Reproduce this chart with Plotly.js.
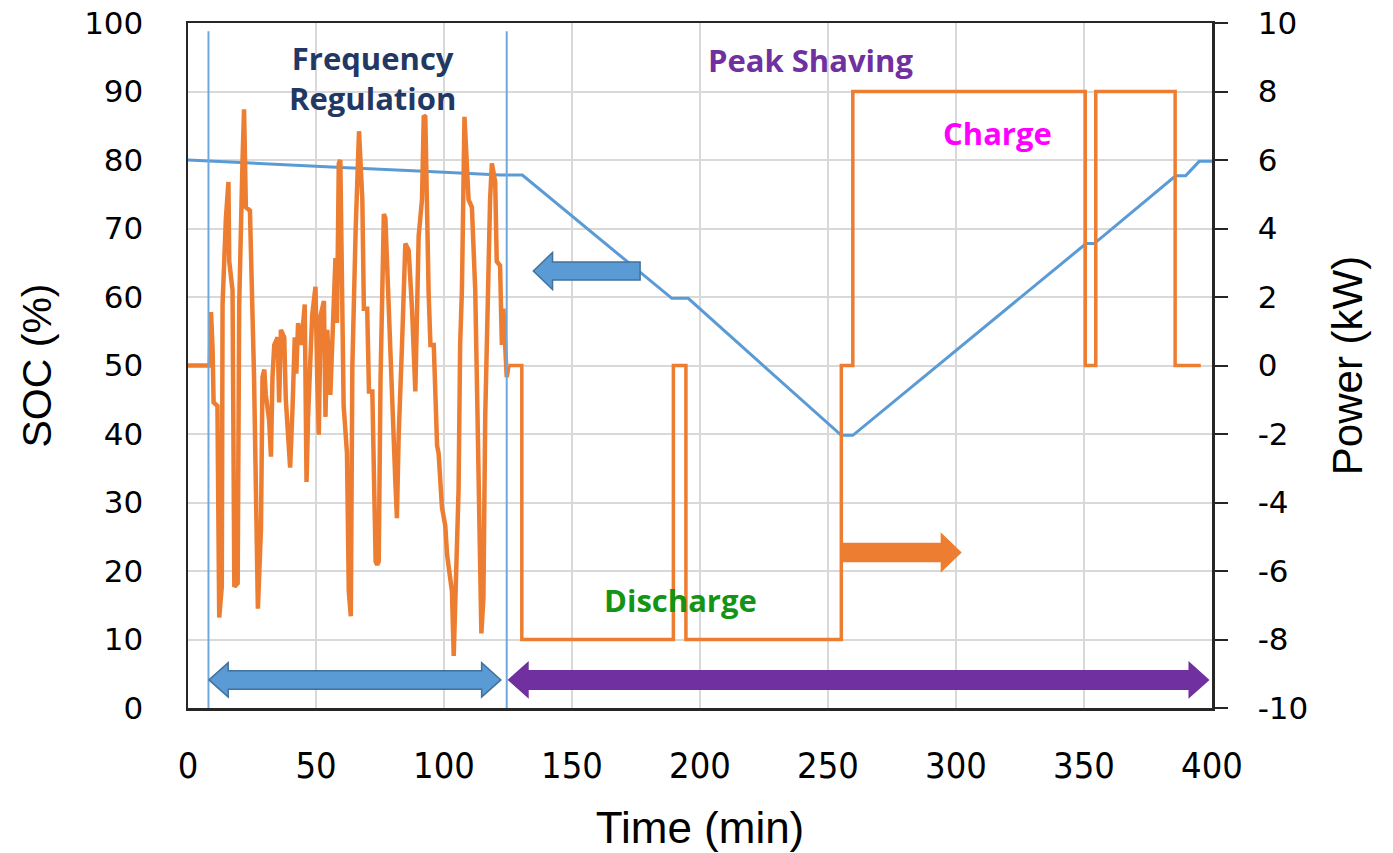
<!DOCTYPE html>
<html>
<head>
<meta charset="utf-8">
<script src="https://cdn.plot.ly/plotly-3.0.1.min.js"></script>
<style>
  html, body { margin: 0; padding: 0; background: #ffffff; }
  #chart { width: 1393px; height: 853px; }
</style>
</head>
<body>
<div id="chart"></div>
<script>
// ---------------- DATA ----------------
// State of charge (left axis, %)
const socTime  = [0, 30, 60, 90, 122, 130.6, 189, 195.4, 255.2, 259.7, 350.8, 354, 385.8, 389.7, 395, 400];
const socValue = [80, 79.4, 78.9, 78.4, 77.8, 77.8, 59.8, 59.8, 39.8, 39.8, 67.8, 67.8, 77.7, 77.7, 79.8, 79.8];

// Power during frequency regulation (right axis, kW)
const frTime = [0, 8.5, 9.0, 9.6, 10.0, 11.5, 12.2, 13.2, 13.5, 14.8, 15.8, 16.1, 17.4, 17.7, 18.1, 19.4, 20.0, 21.3, 21.9, 22.6,
  24.2, 25.8, 26.7, 27.3, 28.5, 29.1, 29.8, 30.4, 31.7, 32.4, 33.0, 33.7, 35.0, 35.6, 36.3, 37.6, 38.2, 38.8, 39.9, 40.8,
  41.7, 42.3, 43.0, 44.3, 45.6, 46.3, 46.9, 48.5, 49.8, 50.5, 51.1, 51.8, 53.1, 53.7, 54.4, 55.6, 56.9, 57.6, 58.2, 58.9,
  59.5, 60.2, 60.8, 62.1, 62.8, 63.6, 64.2, 65.5, 66.8, 68.1, 68.7, 70.0, 70.7, 72.0, 72.6, 73.3, 73.9, 74.5, 75.2, 75.8,
  76.5, 77.1, 78.4, 79.1, 79.7, 81.0, 81.6, 82.3, 83.6, 84.9, 86.2, 87.5, 88.8, 89.4, 90.1, 91.4, 92.1, 92.7, 93.4, 94.0,
  94.7, 96.0, 96.6, 97.3, 97.9, 98.6, 99.2, 100.5, 101.2, 102.5, 103.1, 103.8, 104.4, 105.7, 106.3, 107.0, 108.0, 109.6, 110.9, 112.2,
  112.8, 113.5, 114.1, 114.6, 115.4, 116.1, 116.7, 118.0, 118.7, 120.0, 120.6, 121.9, 122.6, 123.2, 124.5, 125.2];
const frPower = [0, 0, 1.56, 0.5, -1.08, -1.18, -7.36, -6.46, 1.78, 4.3, 5.36, 3.04, 2.2, -2.46, -6.46, -6.36, 1.78, 6.0, 7.48, 4.62,
  4.52, -0.34, -3.5, -7.1, -4.78, -0.34, -0.12, -0.86, -1.6, -2.66, -0.34, 0.6, 0.82, -1.08, 1.04, 0.82, -0.98, -1.72, -2.98, -1.3,
  0.82, -0.24, 1.24, 0.6, 1.78, -3.4, -1.5, 1.46, 2.3, -0.44, -2.02, 1.46, 1.88, -1.5, 1.04, -0.86, 1.66, 3.14, 1.24, 5.9,
  6.0, 1.14, -1.18, -2.56, -6.58, -7.32, -0.02, 4.0, 6.84, 4.84, 1.66, 1.66, -0.76, -0.76, -3.6, -5.72, -5.82, -5.72, -0.44, 2.72,
  4.42, 4.3, 1.46, 0.6, -1.5, -3.4, -4.46, -2.02, 0.6, 3.56, 3.36, 1.66, -0.76, 1.14, 3.78, 4.84, 7.3, 7.26, 4.0, 2.1,
  0.6, 0.6, -0.76, -2.34, -2.56, -3.6, -4.14, -4.68, -5.52, -6.26, -6.58, -8.48, -6.58, -3.6, 0.6, 2.2, 7.26, 4.84, 4.62, 2.2,
  -0.24, -2.56, -5.72, -7.82, -6.78, -1.5, 0.6, 4.84, 5.9, 5.36, 3.04, 2.92, 0.6, 1.66, -0.34, 0];

// Power during peak shaving (right axis, kW)
const psTime  = [125.2, 130.4, 130.4, 189.6, 189.6, 194.5, 194.5, 255.2, 255.2, 259.7, 259.7, 350.5, 350.5, 354.6, 354.6, 385.6, 385.6, 395.6];
const psPower = [0, 0, -8, -8, 0, 0, -8, -8, 0, 0, 8, 8, 0, 0, 8, 8, 0, 0];

// Tick values
const xTicks = [0, 50, 100, 150, 200, 250, 300, 350, 400];
const socTicks = [0, 10, 20, 30, 40, 50, 60, 70, 80, 90, 100];
const powerTicks = [-10, -8, -6, -4, -2, 0, 2, 4, 6, 8, 10];

// Phase boundaries (min)
const phaseBounds = [8, 124.5];

// Text labels
const labels = [
  {text: 'Frequency<br>Regulation', x: 71.9, y: 92.0, color: '#1f3864'},
  {text: 'Peak Shaving', x: 243, y: 94.6, color: '#7030a0'},
  {text: 'Charge', x: 316.4, y: 83.9, color: '#ff00ff'},
  {text: 'Discharge', x: 192.2, y: 15.8, color: '#149414'}
];

// Block arrows (data units: x in min, y in SOC %)
const arrows = [
  {kind: 'double', x0: 8.2, x1: 122.2, y: 4.1, fill: '#5b9bd5', line: '#41719c'},
  {kind: 'double', x0: 125.3, x1: 398.6, y: 4.1, fill: '#7030a0', line: '#7030a0'},
  {kind: 'single', from: 176.6, to: 134.9, y: 63.8, fill: '#5b9bd5', line: '#41719c'},
  {kind: 'single', from: 256.1, to: 301.8, y: 22.7, fill: '#ed7d31', line: '#ed7d31'}
];

// ---------------- BUILD ----------------
const traces = [
  {
    x: socTime, y: socValue, type: 'scatter', mode: 'lines',
    line: {color: '#5b9bd5', width: 3}, yaxis: 'y', hoverinfo: 'skip', showlegend: false
  },
  {
    x: frTime, y: frPower, type: 'scatter', mode: 'lines',
    line: {color: '#ed7d31', width: 4.5}, yaxis: 'y2', hoverinfo: 'skip', showlegend: false
  },
  {
    x: psTime, y: psPower, type: 'scatter', mode: 'lines',
    line: {color: '#ed7d31', width: 3.5}, yaxis: 'y2', hoverinfo: 'skip', showlegend: false
  }
];

function arrowPath(a) {
  const s = 1.35, H = 2.5, h = 7.5;
  let pts;
  if (a.kind === 'double') {
    pts = [[a.x0, a.y], [a.x0 + h, a.y + H], [a.x0 + h, a.y + s], [a.x1 - h, a.y + s], [a.x1 - h, a.y + H],
           [a.x1, a.y], [a.x1 - h, a.y - H], [a.x1 - h, a.y - s], [a.x0 + h, a.y - s], [a.x0 + h, a.y - H]];
  } else {
    const d = Math.sign(a.to - a.from);
    const b = a.to - d * h;
    const ss = 1.3, HH = 2.7;
    pts = [[a.from, a.y + ss], [b, a.y + ss], [b, a.y + HH], [a.to, a.y], [b, a.y - HH], [b, a.y - ss], [a.from, a.y - ss]];
  }
  return 'M ' + pts.map(p => p[0] + ',' + p[1]).join(' L ') + ' Z';
}

const shapes = [];
phaseBounds.forEach(xb => {
  shapes.push({type: 'line', xref: 'x', yref: 'y', x0: xb, x1: xb, y0: 0, y1: 98.8,
    line: {color: '#6fa8dc', width: 2}, layer: 'above'});
});
arrows.forEach(a => {
  shapes.push({type: 'path', xref: 'x', yref: 'y', path: arrowPath(a),
    fillcolor: a.fill, line: {color: a.line, width: 1.5}, layer: 'above'});
});

const annotations = labels.map(l => ({
  text: '<b>' + l.text + '</b>', x: l.x, y: l.y, xref: 'x', yref: 'y',
  showarrow: false, xanchor: 'center', yanchor: 'middle',
  font: {family: 'Open Sans, sans-serif', size: 31, color: l.color}
}));

const layout = {
  width: 1393, height: 853,
  margin: {l: 188, r: 181, t: 23, b: 145},
  paper_bgcolor: '#ffffff', plot_bgcolor: '#ffffff',
  showlegend: false,
  xaxis: {
    range: [0, 400], tickvals: xTicks, ticktext: xTicks.map(String),
    showgrid: true, gridcolor: '#d9d9d9', gridwidth: 2,
    showline: true, linecolor: '#262626', linewidth: 2.5, mirror: true,
    ticks: '', zeroline: false, ticklabelstandoff: 24,
    tickfont: {family: 'DejaVu Sans Condensed, Liberation Sans, Arial, sans-serif', size: 36, color: '#000000'},
    title: {text: 'Time (min)', standoff: 28,
      font: {family: 'Liberation Sans, Arial, sans-serif', size: 44, color: '#000000'}}
  },
  yaxis: {
    range: [0, 100], tickvals: socTicks, ticktext: socTicks.map(String),
    showgrid: true, gridcolor: '#d9d9d9', gridwidth: 2,
    showline: true, linecolor: '#262626', linewidth: 2.5,
    ticks: '', zeroline: false, ticklabelstandoff: 36,
    tickfont: {family: 'DejaVu Sans, sans-serif', size: 31, color: '#000000'},
    title: {text: 'SOC (%)', standoff: 20,
      font: {family: 'Liberation Sans, Arial, sans-serif', size: 41, color: '#000000'}}
  },
  yaxis2: {
    range: [-10, 10], tickvals: powerTicks, ticktext: powerTicks.map(String),
    overlaying: 'y', side: 'right', showgrid: false, zeroline: false,
    showline: true, linecolor: '#262626', linewidth: 2.5,
    ticks: 'outside', ticklen: 13, tickwidth: 2, tickcolor: '#262626', ticklabelstandoff: 24,
    tickfont: {family: 'DejaVu Sans, sans-serif', size: 31, color: '#000000'},
    title: {text: 'Power (kW)', standoff: 26,
      font: {family: 'Liberation Sans, Arial, sans-serif', size: 42, color: '#000000'}}
  },
  shapes: shapes,
  annotations: annotations
};

Plotly.newPlot('chart', traces, layout, {staticPlot: true, displayModeBar: false});
</script>
</body>
</html>
